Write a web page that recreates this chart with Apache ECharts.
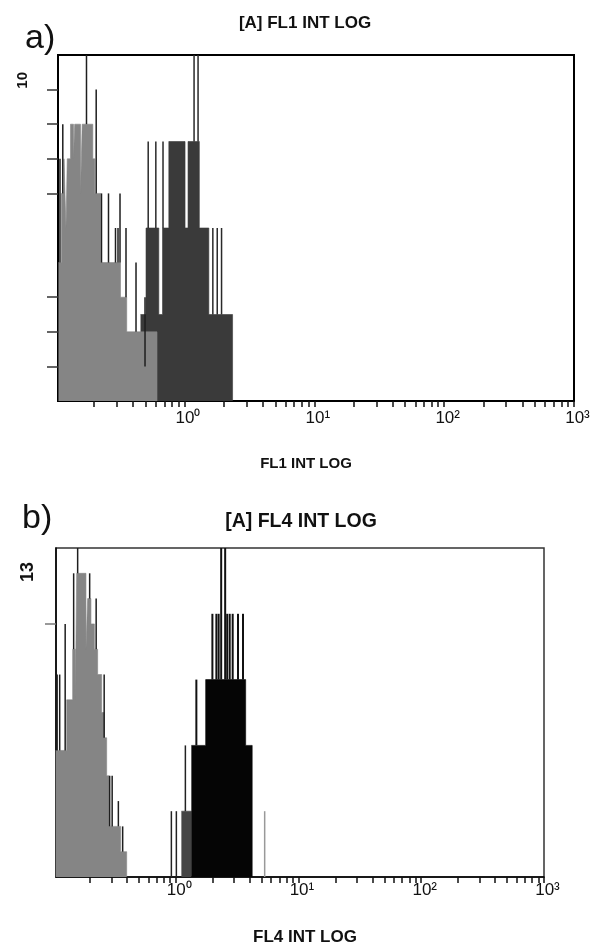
<!DOCTYPE html>
<html><head><meta charset="utf-8">
<script src="https://cdn.jsdelivr.net/npm/echarts@6/dist/echarts.min.js"></script>
<style>html,body{margin:0;padding:0;background:#fff}#c{width:604px;height:946px}</style>
</head><body><div id="c"></div>
<script>
// ---------- shared axis values ----------
const xMin = 0.106, xMax = 1000;
const xTickVals = [0.2,0.3,0.4,0.5,0.6,0.7,0.8,0.9,1,2,3,4,5,6,7,8,9,10,20,30,40,50,60,70,80,90,100,200,300,400,500,600,700,800,900,1000];
const xLabelVals = [1, 10, 100, 1000];
const xLabelText = { 1: '10\u2070', 10: '10\u00B9', 100: '10\u00B2', 1000: '10\u00B3' };

// ---------- panel a : FL1 ----------
const aYMax = 10;
const aYTickVals = [1,2,3,6,7,8,9];
const aYLabelVals = [10];
// filled histogram steps [intensity, count] (step starts at intensity)
const aGrayFill = [[0.1069,4],[0.1128,6],[0.1179,7],[0.1221,5],[0.1249,7],[0.1323,8],[0.1395,7],[0.1425,8],[0.158,6],[0.1628,8],[0.1965,7],[0.2036,6],[0.2253,4],[0.3212,3],[0.3587,2],[0.6138,0]];
const aDarkFill = [[0.458,2.5],[0.505,5],[0.6337,2.5],[0.6768,5],[0.7568,7.5],[1.009,5],[1.064,7.5],[1.3,5],[1.539,2.5],[2.344,0]];
// single-channel spikes [intensity, from count, to count]
const aGraySpikes = [[0.1098,4,7],[0.1154,6,8],[0.1757,8,10],[0.2087,6,9],[0.2293,4,6],[0.2596,4,6],[0.2939,4,5],[0.3073,4,5],[0.3184,4,6],[0.3541,3,5],[0.4229,2,4],[0.4961,1,3]];
const aDarkSpikes = [[0.525,5,7.5],[0.601,5,7.5],[0.6827,5,7.5],[1.184,7.5,10],[1.271,7.5,10],[1.652,2.5,5],[1.786,2.5,5],[1.928,2.5,5]];

// ---------- panel b : FL4 ----------
const bYMax = 13;
const bYTickVals = [10];
const bYLabelVals = [13];
const bGrayFill = [[0.1053,5],[0.1295,7],[0.1449,9],[0.1524,7],[0.1562,12],[0.1859,9],[0.1919,11],[0.2042,10],[0.2177,9],[0.2315,8],[0.2495,6.5],[0.2616,5.5],[0.2741,4],[0.2872,2],[0.3565,1],[0.399,0]];
const bDarkGrayFill = [[1.113,2.6],[1.342,0]];
const bBlackFill = [[1.342,5.2],[1.755,7.8],[3.717,5.2],[4.2,0]];
const bGraySpikes = [[0.1083,5,8],[0.1136,5,8],[0.1259,5,10],[0.1476,9,12],[0.1591,12,13],[0.1993,11,12],[0.2251,9,11],[0.2616,5.5,8],[0.29,2,4],[0.3039,2,4],[0.3414,2,3],[0.3701,1,2]];
const bDarkGraySpikes = [[0.9225,0,2.6],[1.013,0,2.6],[1.1996,2.6,5.2]];
const bLoneSpikes = [[5.308,0,2.6]];
const bBlackSpikes = [[1.474,5.2,7.8],[1.991,7.8,10.4],[2.146,7.8,10.4],[2.239,7.8,10.4],[2.348,7.8,13],[2.53,7.8,13],[2.628,7.8,10.4],[2.754,7.8,10.4],[2.913,7.8,10.4],[3.217,7.8,10.4],[3.534,7.8,10.4]];

const FONT = '"Liberation Sans", Arial, Helvetica, sans-serif';

function fillSeries(data, idx, color, z) {
  return { type: 'line', step: 'end', xAxisIndex: idx, yAxisIndex: idx, data: data,
    symbol: 'none', z: z, silent: true,
    lineStyle: { width: 0.6, color: color },
    areaStyle: { color: color, opacity: 1 } };
}
function spikeSeries(data, idx, color, width, z) {
  return { type: 'custom', xAxisIndex: idx, yAxisIndex: idx, data: data, z: z, silent: true,
    encode: { x: 0, y: [1, 2] },
    renderItem: function (params, api) {
      const p0 = api.coord([api.value(0), api.value(1)]);
      const p1 = api.coord([api.value(0), api.value(2)]);
      return { type: 'line', shape: { x1: p0[0], y1: p0[1], x2: p1[0], y2: p1[1] },
        style: { stroke: color, lineWidth: width } };
    } };
}
function xAxisCfg(idx, margin) {
  return { type: 'log', logBase: 10, gridIndex: idx, min: xMin, max: xMax,
    axisLine: { show: true, onZero: false, lineStyle: { color: '#000', width: 1.5 } },
    axisTick: { show: true, inside: false, length: 6, customValues: xTickVals, lineStyle: { color: '#111', width: 1.5 } },
    minorTick: { show: false }, splitLine: { show: false },
    axisLabel: { customValues: xLabelVals, margin: margin, color: '#111', fontFamily: FONT, fontSize: 17,
      padding: [0, 0, 0, 7],
      formatter: function (v) { return xLabelText[Math.round(v)]; } } };
}
function yAxisCfg(idx, max, ticks, labels, tickColor, fontSize, margin, pad) {
  return { type: 'value', gridIndex: idx, min: 0, max: max,
    axisLine: { show: true, lineStyle: { color: '#000', width: 1.5 } },
    axisTick: { show: true, inside: false, length: 11, customValues: ticks, lineStyle: { color: tickColor, width: 1.5 } },
    splitLine: { show: false },
    axisLabel: { customValues: labels, rotate: 90, align: 'right', verticalAlign: 'bottom',
      padding: [0, pad, 0, 0], margin: margin, fontSize: fontSize, fontWeight: 'bold', color: '#111', fontFamily: FONT } };
}

const chart = echarts.init(document.getElementById('c'), null, { renderer: 'canvas' });
chart.setOption({
  backgroundColor: '#fff',
  animation: false,
  title: [
    { text: 'a)', left: 20, top: 17, textStyle: { fontSize: 34, fontWeight: 'normal', color: '#111', fontFamily: FONT } },
    { text: '[A] FL1 INT LOG', left: 300, top: 10, textAlign: 'center', textStyle: { fontSize: 17, fontWeight: 'bold', color: '#111', fontFamily: FONT } },
    { text: 'FL1 INT LOG', left: 301, top: 451, textAlign: 'center', textStyle: { fontSize: 15, fontWeight: 'bold', color: '#111', fontFamily: FONT } },
    { text: 'b)', left: 17, top: 497, textStyle: { fontSize: 34, fontWeight: 'normal', color: '#111', fontFamily: FONT } },
    { text: '[A] FL4 INT LOG', left: 296, top: 507, textAlign: 'center', textStyle: { fontSize: 19.5, fontWeight: 'bold', color: '#111', fontFamily: FONT } },
    { text: 'FL4 INT LOG', left: 300, top: 924, textAlign: 'center', textStyle: { fontSize: 17, fontWeight: 'bold', color: '#111', fontFamily: FONT } }
  ],
  grid: [
    { left: 58, top: 55, width: 516, height: 346, show: true, borderColor: '#000', borderWidth: 2, backgroundColor: 'transparent', containLabel: false },
    { left: 56, top: 548, width: 488, height: 329, show: true, borderColor: '#333', borderWidth: 1.5, backgroundColor: 'transparent', containLabel: false }
  ],
  xAxis: [ xAxisCfg(0, 9), xAxisCfg(1, 5) ],
  yAxis: [
    yAxisCfg(0, aYMax, aYTickVals, aYLabelVals, '#333', 15, 28, 17),
    yAxisCfg(1, bYMax, bYTickVals, bYLabelVals, '#777', 18, 19, 14)
  ],
  series: [
    fillSeries(aDarkFill, 0, '#3a3a3a', 1),
    spikeSeries(aDarkSpikes, 0, '#2a2a2a', 1.5, 2),
    fillSeries(aGrayFill, 0, '#858585', 3),
    spikeSeries(aGraySpikes, 0, '#1e1e1e', 1.5, 4),
    fillSeries(bDarkGrayFill, 1, '#454545', 1),
    spikeSeries(bDarkGraySpikes, 1, '#222', 1.5, 2),
    spikeSeries(bLoneSpikes, 1, '#999', 1.5, 2),
    fillSeries(bBlackFill, 1, '#050505', 3),
    spikeSeries(bBlackSpikes, 1, '#111', 2, 4),
    fillSeries(bGrayFill, 1, '#858585', 3),
    spikeSeries(bGraySpikes, 1, '#1e1e1e', 1.5, 4)
  ]
});
</script></body></html>
